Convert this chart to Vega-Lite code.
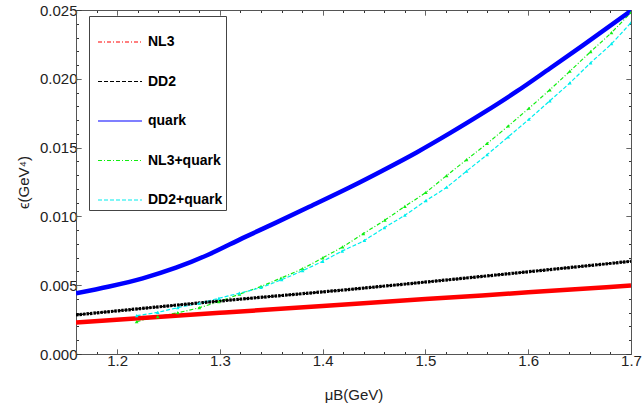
{
  "$schema": "https://vega.github.io/schema/vega-lite/v6.json",
  "width": 555,
  "height": 344,
  "autosize": {"type": "none"},
  "padding": {"left": 76, "top": 10, "right": 11, "bottom": 50},
  "background": "white",
  "config": {
    "view": {"stroke": null},
    "font": "Liberation Sans",
    "axis": {
      "labelFont": "Liberation Sans",
      "labelFontSize": 15,
      "labelColor": "#222",
      "titleFont": "Liberation Sans",
      "titleFontSize": 15,
      "titleFontWeight": "normal",
      "titleColor": "#222",
      "domainColor": "#555",
      "tickColor": "#333",
      "tickSize": -5,
      "ticks": true,
      "grid": false
    }
  },
  "data": {"values": [
    {"series": "NL3", "mu": 1.16, "e": 0.00229},
    {"series": "NL3", "mu": 1.3, "e": 0.00299},
    {"series": "NL3", "mu": 1.4, "e": 0.00349},
    {"series": "NL3", "mu": 1.5, "e": 0.00399},
    {"series": "NL3", "mu": 1.6, "e": 0.00448},
    {"series": "NL3", "mu": 1.7, "e": 0.00498},
    {"series": "DD2", "mu": 1.16, "e": 0.00284},
    {"series": "DD2", "mu": 1.3, "e": 0.00385},
    {"series": "DD2", "mu": 1.43, "e": 0.00472},
    {"series": "DD2", "mu": 1.55, "e": 0.0056},
    {"series": "DD2", "mu": 1.7, "e": 0.00674},
    {"series": "quark", "mu": 1.16, "e": 0.00442},
    {"series": "quark", "mu": 1.1924, "e": 0.00491},
    {"series": "quark", "mu": 1.2249, "e": 0.0055},
    {"series": "quark", "mu": 1.2573, "e": 0.00627},
    {"series": "quark", "mu": 1.2897, "e": 0.00725},
    {"series": "quark", "mu": 1.3221, "e": 0.00842},
    {"series": "quark", "mu": 1.3546, "e": 0.00955},
    {"series": "quark", "mu": 1.387, "e": 0.0107},
    {"series": "quark", "mu": 1.4265, "e": 0.01212},
    {"series": "quark", "mu": 1.459, "e": 0.01336},
    {"series": "quark", "mu": 1.4914, "e": 0.01465},
    {"series": "quark", "mu": 1.5238, "e": 0.01605},
    {"series": "quark", "mu": 1.5562, "e": 0.01752},
    {"series": "quark", "mu": 1.5887, "e": 0.01908},
    {"series": "quark", "mu": 1.621, "e": 0.02075},
    {"series": "quark", "mu": 1.6535, "e": 0.02245},
    {"series": "quark", "mu": 1.7, "e": 0.02494},
    {"series": "NL3+quark", "mu": 1.219, "e": 0.00235},
    {"series": "NL3+quark", "mu": 1.2395, "e": 0.00271},
    {"series": "NL3+quark", "mu": 1.259, "e": 0.003},
    {"series": "NL3+quark", "mu": 1.28, "e": 0.00337},
    {"series": "NL3+quark", "mu": 1.299, "e": 0.00381},
    {"series": "NL3+quark", "mu": 1.319, "e": 0.00435},
    {"series": "NL3+quark", "mu": 1.34, "e": 0.00491},
    {"series": "NL3+quark", "mu": 1.3595, "e": 0.00552},
    {"series": "NL3+quark", "mu": 1.3805, "e": 0.00621},
    {"series": "NL3+quark", "mu": 1.4, "e": 0.00699},
    {"series": "NL3+quark", "mu": 1.4194, "e": 0.00779},
    {"series": "NL3+quark", "mu": 1.4396, "e": 0.00875},
    {"series": "NL3+quark", "mu": 1.4605, "e": 0.00973},
    {"series": "NL3+quark", "mu": 1.48, "e": 0.01073},
    {"series": "NL3+quark", "mu": 1.5004, "e": 0.01175},
    {"series": "NL3+quark", "mu": 1.5206, "e": 0.01297},
    {"series": "NL3+quark", "mu": 1.54, "e": 0.01412},
    {"series": "NL3+quark", "mu": 1.56, "e": 0.0153},
    {"series": "NL3+quark", "mu": 1.5805, "e": 0.01657},
    {"series": "NL3+quark", "mu": 1.6007, "e": 0.01786},
    {"series": "NL3+quark", "mu": 1.621, "e": 0.0192},
    {"series": "NL3+quark", "mu": 1.6405, "e": 0.02055},
    {"series": "NL3+quark", "mu": 1.6607, "e": 0.02197},
    {"series": "NL3+quark", "mu": 1.681, "e": 0.02336},
    {"series": "NL3+quark", "mu": 1.7, "e": 0.02483},
    {"series": "DD2+quark", "mu": 1.219, "e": 0.00279},
    {"series": "DD2+quark", "mu": 1.2395, "e": 0.00303},
    {"series": "DD2+quark", "mu": 1.259, "e": 0.00337},
    {"series": "DD2+quark", "mu": 1.28, "e": 0.00369},
    {"series": "DD2+quark", "mu": 1.299, "e": 0.00405},
    {"series": "DD2+quark", "mu": 1.319, "e": 0.00442},
    {"series": "DD2+quark", "mu": 1.34, "e": 0.00484},
    {"series": "DD2+quark", "mu": 1.36, "e": 0.0054},
    {"series": "DD2+quark", "mu": 1.3805, "e": 0.00606},
    {"series": "DD2+quark", "mu": 1.4, "e": 0.00674},
    {"series": "DD2+quark", "mu": 1.419, "e": 0.00748},
    {"series": "DD2+quark", "mu": 1.4406, "e": 0.00826},
    {"series": "DD2+quark", "mu": 1.46, "e": 0.00918},
    {"series": "DD2+quark", "mu": 1.48, "e": 0.01009},
    {"series": "DD2+quark", "mu": 1.5004, "e": 0.01114},
    {"series": "DD2+quark", "mu": 1.5206, "e": 0.01212},
    {"series": "DD2+quark", "mu": 1.54, "e": 0.01329},
    {"series": "DD2+quark", "mu": 1.56, "e": 0.01449},
    {"series": "DD2+quark", "mu": 1.5805, "e": 0.01578},
    {"series": "DD2+quark", "mu": 1.6007, "e": 0.01706},
    {"series": "DD2+quark", "mu": 1.621, "e": 0.0184},
    {"series": "DD2+quark", "mu": 1.6405, "e": 0.0197},
    {"series": "DD2+quark", "mu": 1.6607, "e": 0.02116},
    {"series": "DD2+quark", "mu": 1.681, "e": 0.02255},
    {"series": "DD2+quark", "mu": 1.7, "e": 0.02409}
  ]},
  "resolve": {"scale": {"x": "independent", "y": "independent"}, "axis": {"x": "independent", "y": "independent"}},
  "layer": [
    {
      "mark": {"type": "line", "strokeWidth": 1.2, "clip": true, "interpolate": "monotone"},
      "encoding": {
        "x": {"field": "mu", "type": "quantitative",
          "scale": {"domain": [1.16, 1.7], "nice": false, "zero": false},
          "axis": {
            "orient": "bottom",
            "title": "μB(GeV)",
            "titlePadding": 19,
            "values": [1.16,1.18,1.2,1.22,1.24,1.26,1.28,1.3,1.32,1.34,1.36,1.38,1.4,1.42,1.44,1.46,1.48,1.5,1.52,1.54,1.56,1.58,1.6,1.62,1.64,1.66,1.68,1.7],
            "labelExpr": "abs(datum.value*10 - round(datum.value*10)) < 0.001 ? format(datum.value, '.1f') : ''",
            "tickDash": {"condition": {"test": "abs(datum.value*10 - round(datum.value*10)) < 0.001", "value": [1, 0]}, "value": [2.5, 20]},
            "labelPadding": 4,
            "labelFlush": false,
            "labelOverlap": false
          }
        },
        "y": {"field": "e", "type": "quantitative",
          "scale": {"domain": [0, 0.025], "nice": false, "zero": false},
          "axis": {
            "orient": "left",
            "title": "ϵ(GeV⁴)",
            "titlePadding": 8,
            "values": [0,0.001,0.002,0.003,0.004,0.005,0.006,0.007,0.008,0.009,0.01,0.011,0.012,0.013,0.014,0.015,0.016,0.017,0.018,0.019,0.02,0.021,0.022,0.023,0.024,0.025],
            "labelExpr": "abs(datum.value*200 - round(datum.value*200)) < 0.001 ? format(datum.value, '.3f') : ''",
            "tickDash": {"condition": {"test": "abs(datum.value*200 - round(datum.value*200)) < 0.001", "value": [1, 0]}, "value": [2.5, 20]},
            "labelPadding": 4,
            "labelFlush": false,
            "labelOverlap": false
          }
        },
        "color": {"field": "series", "type": "nominal",
          "scale": {"domain": ["NL3", "DD2", "quark", "NL3+quark", "DD2+quark"],
                    "range": ["#ff0000", "#000000", "#0000ff", "#11ee11", "#00eeee"]},
          "legend": {
            "title": null,
            "orient": "none",
            "legendX": 13,
            "legendY": 6,
            "symbolType": "stroke",
            "symbolSize": 1936,
            "symbolStrokeWidth": 1.2,
            "symbolOffset": 5,
            "labelFont": "Liberation Sans",
            "labelFontSize": 14,
            "labelFontWeight": "bold",
            "labelColor": "#000",
            "labelOffset": 5,
            "labelExpr": "datum.label + '       '",
            "rowPadding": 9.5,
            "padding": 3,
            "strokeColor": "#444",
            "fillColor": "white"
          }
        },
        "strokeDash": {"field": "series", "type": "nominal",
          "scale": {"domain": ["NL3", "DD2", "quark", "NL3+quark", "DD2+quark"],
                    "range": [[4, 2, 1, 2], [4, 2], [1, 0], [4, 2, 1, 2], [4, 2]]},
          "legend": null
        }
      }
    },
    {
      "transform": [{"filter": "datum.series === 'NL3' || datum.series === 'quark'"}],
      "mark": {"type": "line", "strokeWidth": 4.5, "clip": true, "interpolate": "monotone"},
      "encoding": {
        "x": {"field": "mu", "type": "quantitative", "scale": {"domain": [1.16, 1.7], "nice": false, "zero": false}, "axis": null},
        "y": {"field": "e", "type": "quantitative", "scale": {"domain": [0, 0.025], "nice": false, "zero": false}, "axis": null},
        "color": {"field": "series", "type": "nominal"}
      }
    },
    {
      "transform": [{"filter": "datum.series === 'DD2'"}],
      "mark": {"type": "line", "strokeWidth": 3.2, "strokeDash": [2.5, 1], "color": "#000", "clip": true, "interpolate": "monotone"},
      "encoding": {
        "x": {"field": "mu", "type": "quantitative", "scale": {"domain": [1.16, 1.7], "nice": false, "zero": false}, "axis": null},
        "y": {"field": "e", "type": "quantitative", "scale": {"domain": [0, 0.025], "nice": false, "zero": false}, "axis": null}
      }
    },
    {
      "transform": [{"filter": "datum.series === 'NL3+quark' || datum.series === 'DD2+quark'"}],
      "mark": {"type": "point", "shape": "triangle-up", "filled": true, "size": 14, "opacity": 1, "clip": true},
      "encoding": {
        "x": {"field": "mu", "type": "quantitative",
          "scale": {"domain": [1.16, 1.7], "nice": false, "zero": false},
          "axis": {
            "orient": "top", "title": null, "labels": false,
            "values": [1.16,1.18,1.2,1.22,1.24,1.26,1.28,1.3,1.32,1.34,1.36,1.38,1.4,1.42,1.44,1.46,1.48,1.5,1.52,1.54,1.56,1.58,1.6,1.62,1.64,1.66,1.68,1.7],
            "tickDash": {"condition": {"test": "abs(datum.value*10 - round(datum.value*10)) < 0.001", "value": [1, 0]}, "value": [2.5, 20]}
          }
        },
        "y": {"field": "e", "type": "quantitative",
          "scale": {"domain": [0, 0.025], "nice": false, "zero": false},
          "axis": {
            "orient": "right", "title": null, "labels": false,
            "values": [0,0.001,0.002,0.003,0.004,0.005,0.006,0.007,0.008,0.009,0.01,0.011,0.012,0.013,0.014,0.015,0.016,0.017,0.018,0.019,0.02,0.021,0.022,0.023,0.024,0.025],
            "tickDash": {"condition": {"test": "abs(datum.value*200 - round(datum.value*200)) < 0.001", "value": [1, 0]}, "value": [2.5, 20]}
          }
        },
        "color": {"field": "series", "type": "nominal"}
      }
    }
  ]
}
